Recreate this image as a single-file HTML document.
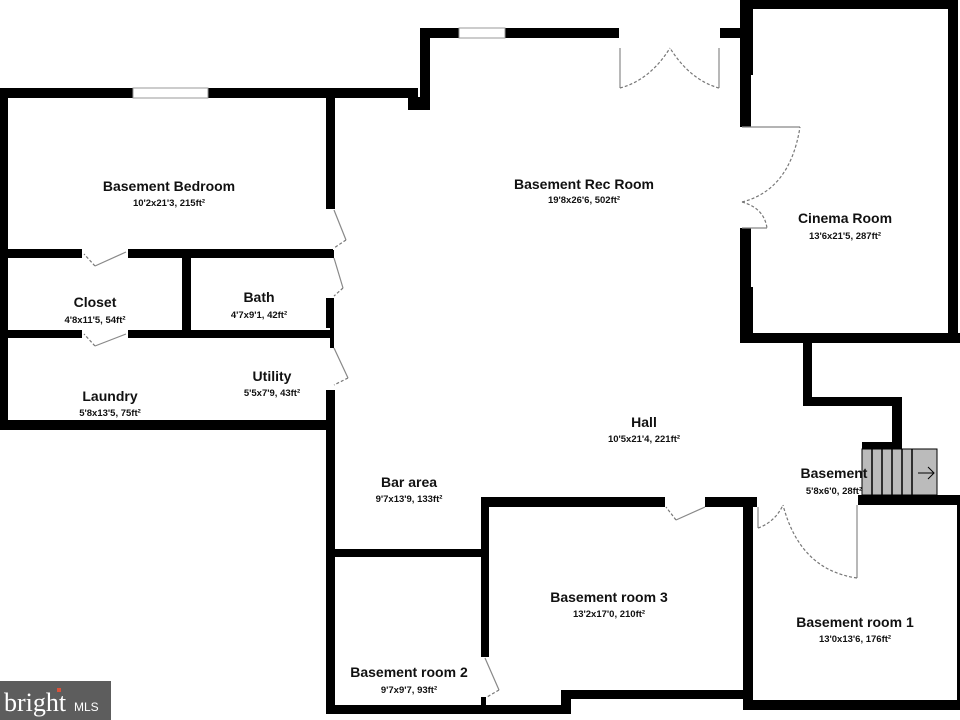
<!DOCTYPE html>
<html><head><meta charset="utf-8"><style>
html,body{margin:0;padding:0;background:#fff;}
svg{display:block;}
.t{font-family:"Liberation Sans",sans-serif;font-weight:bold;font-size:14px;fill:#111;text-anchor:middle;}
.s{font-family:"Liberation Sans",sans-serif;font-weight:bold;font-size:9.5px;fill:#111;text-anchor:middle;}
.d{fill:none;stroke:#777;stroke-width:1.2;stroke-dasharray:3,2;}
.l{stroke:#888;stroke-width:1.2;fill:none;}
</style></head><body>
<svg width="960" height="720" viewBox="0 0 960 720" xmlns="http://www.w3.org/2000/svg">
<rect width="960" height="720" fill="#fff"/>
<g fill="#000">
<rect x="0" y="88" width="133" height="10"/>
<rect x="208" y="88" width="210" height="10"/>
<rect x="408" y="97" width="22" height="13"/>
<rect x="0" y="88" width="8" height="342"/>
<rect x="0" y="249" width="82" height="9"/>
<rect x="128" y="249" width="205" height="9"/>
<rect x="182" y="258" width="9" height="75"/>
<rect x="0" y="330" width="82" height="8"/>
<rect x="128" y="330" width="205" height="8"/>
<rect x="0" y="420" width="335" height="10"/>
<rect x="326" y="97" width="9" height="112"/>
<rect x="326" y="250" width="8" height="8"/>
<rect x="326" y="298" width="8" height="30"/>
<rect x="330" y="328" width="4" height="20"/>
<rect x="326" y="390" width="9" height="324"/>
<rect x="420" y="28" width="10" height="82"/>
<rect x="420" y="28" width="39" height="10"/>
<rect x="505" y="28" width="114" height="10"/>
<rect x="720" y="28" width="22" height="10"/>
<rect x="740" y="0" width="218" height="9"/>
<rect x="740" y="0" width="11" height="127"/>
<rect x="740" y="0" width="13" height="75"/>
<rect x="740" y="228" width="11" height="115"/>
<rect x="740" y="287" width="13" height="46"/>
<rect x="948" y="0" width="10" height="343"/>
<rect x="740" y="333" width="220" height="10"/>
<rect x="803" y="343" width="9" height="62"/>
<rect x="803" y="397" width="99" height="9"/>
<rect x="892" y="397" width="10" height="52"/>
<rect x="862" y="442" width="40" height="7"/>
<rect x="858" y="495" width="102" height="10"/>
<rect x="335" y="549" width="147" height="8"/>
<rect x="481" y="497" width="8" height="160"/>
<rect x="481" y="697" width="5" height="10"/>
<rect x="326" y="705" width="245" height="9"/>
<rect x="561" y="690" width="10" height="24"/>
<rect x="561" y="690" width="191" height="9"/>
<rect x="481" y="497" width="184" height="10"/>
<rect x="705" y="497" width="52" height="10"/>
<rect x="743" y="497" width="10" height="213"/>
<rect x="720" y="497" width="37" height="10"/>
<rect x="743" y="700" width="217" height="10"/>
<rect x="957" y="495" width="3" height="215"/>
</g>
<rect x="133" y="88" width="75" height="10" fill="#fff" stroke="#999" stroke-width="1"/>
<rect x="459" y="28" width="46" height="10" fill="#fff" stroke="#999" stroke-width="1"/>
<rect x="862" y="449" width="75" height="46" fill="#bbb" stroke="#000" stroke-width="1"/>
<g stroke="#000" stroke-width="1.5">
<line x1="872" y1="449" x2="872" y2="495"/><line x1="882" y1="449" x2="882" y2="495"/>
<line x1="892" y1="449" x2="892" y2="495"/><line x1="902" y1="449" x2="902" y2="495"/>
<line x1="912" y1="449" x2="912" y2="495"/>
</g>
<path d="M918 473 H934 M928 467 L934 473 L928 479" stroke="#000" stroke-width="1" fill="none"/>
<g>
<line class="l" x1="620" y1="48" x2="620" y2="88"/><path class="d" d="M620 88 Q650 80 670 48"/>
<line class="l" x1="719" y1="48" x2="719" y2="88"/><path class="d" d="M719 88 Q690 80 670 48"/>
<line class="l" x1="742" y1="127" x2="800" y2="127"/><path class="d" d="M742 202 Q790 190 800 127"/>
<line class="l" x1="742" y1="228" x2="767" y2="228"/><path class="d" d="M742 202 Q764 208 767 228"/>
<line class="l" x1="334" y1="210" x2="346" y2="240"/><path class="d" d="M346 240 L334 248"/>
<line class="l" x1="334" y1="258" x2="343" y2="288"/><path class="d" d="M343 288 L334 296"/>
<line class="l" x1="334" y1="348" x2="348" y2="378"/><path class="d" d="M348 378 L334 385"/>
<line class="l" x1="126" y1="252" x2="95" y2="266"/><path class="d" d="M95 266 L84 254"/>
<line class="l" x1="126" y1="334" x2="95" y2="346"/><path class="d" d="M95 346 L84 334"/>
<line class="l" x1="485" y1="658" x2="499" y2="690"/><path class="d" d="M499 690 L487 697"/>
<line class="l" x1="705" y1="507" x2="676" y2="520"/><path class="d" d="M676 520 L666 507"/>
<line class="l" x1="758" y1="507" x2="758" y2="528"/><path class="d" d="M758 528 Q775 522 783 505"/>
<line class="l" x1="857" y1="505" x2="857" y2="578"/><path class="d" d="M857 578 Q800 570 783 505"/>
</g>
<text class="t" x="169" y="191">Basement Bedroom</text><text class="s" x="169" y="206">10'2x21'3, 215ft²</text>
<text class="t" x="584" y="189">Basement Rec Room</text><text class="s" x="584" y="203">19'8x26'6, 502ft²</text>
<text class="t" x="845" y="223">Cinema Room</text><text class="s" x="845" y="239">13'6x21'5, 287ft²</text>
<text class="t" x="95" y="307">Closet</text><text class="s" x="95" y="323">4'8x11'5, 54ft²</text>
<text class="t" x="259" y="302">Bath</text><text class="s" x="259" y="318">4'7x9'1, 42ft²</text>
<text class="t" x="272" y="381">Utility</text><text class="s" x="272" y="396">5'5x7'9, 43ft²</text>
<text class="t" x="110" y="401">Laundry</text><text class="s" x="110" y="416">5'8x13'5, 75ft²</text>
<text class="t" x="644" y="427">Hall</text><text class="s" x="644" y="442">10'5x21'4, 221ft²</text>
<text class="t" x="409" y="487">Bar area</text><text class="s" x="409" y="502">9'7x13'9, 133ft²</text>
<text class="t" x="834" y="478">Basement</text><text class="s" x="834" y="494">5'8x6'0, 28ft²</text>
<text class="t" x="609" y="602">Basement room 3</text><text class="s" x="609" y="617">13'2x17'0, 210ft²</text>
<text class="t" x="855" y="627">Basement room 1</text><text class="s" x="855" y="642">13'0x13'6, 176ft²</text>
<text class="t" x="409" y="677">Basement room 2</text><text class="s" x="409" y="693">9'7x9'7, 93ft²</text>
<rect x="0" y="681" width="111" height="39" fill="#5d5d5d"/>
<text x="4" y="711" font-family="Liberation Serif,serif" font-size="26" fill="#fff">bright</text>
<text x="74" y="711" font-family="Liberation Sans,sans-serif" font-size="12" fill="#fff">MLS</text>
<rect x="57" y="688" width="4" height="4" fill="#d9533b"/>
</svg>
</body></html>
